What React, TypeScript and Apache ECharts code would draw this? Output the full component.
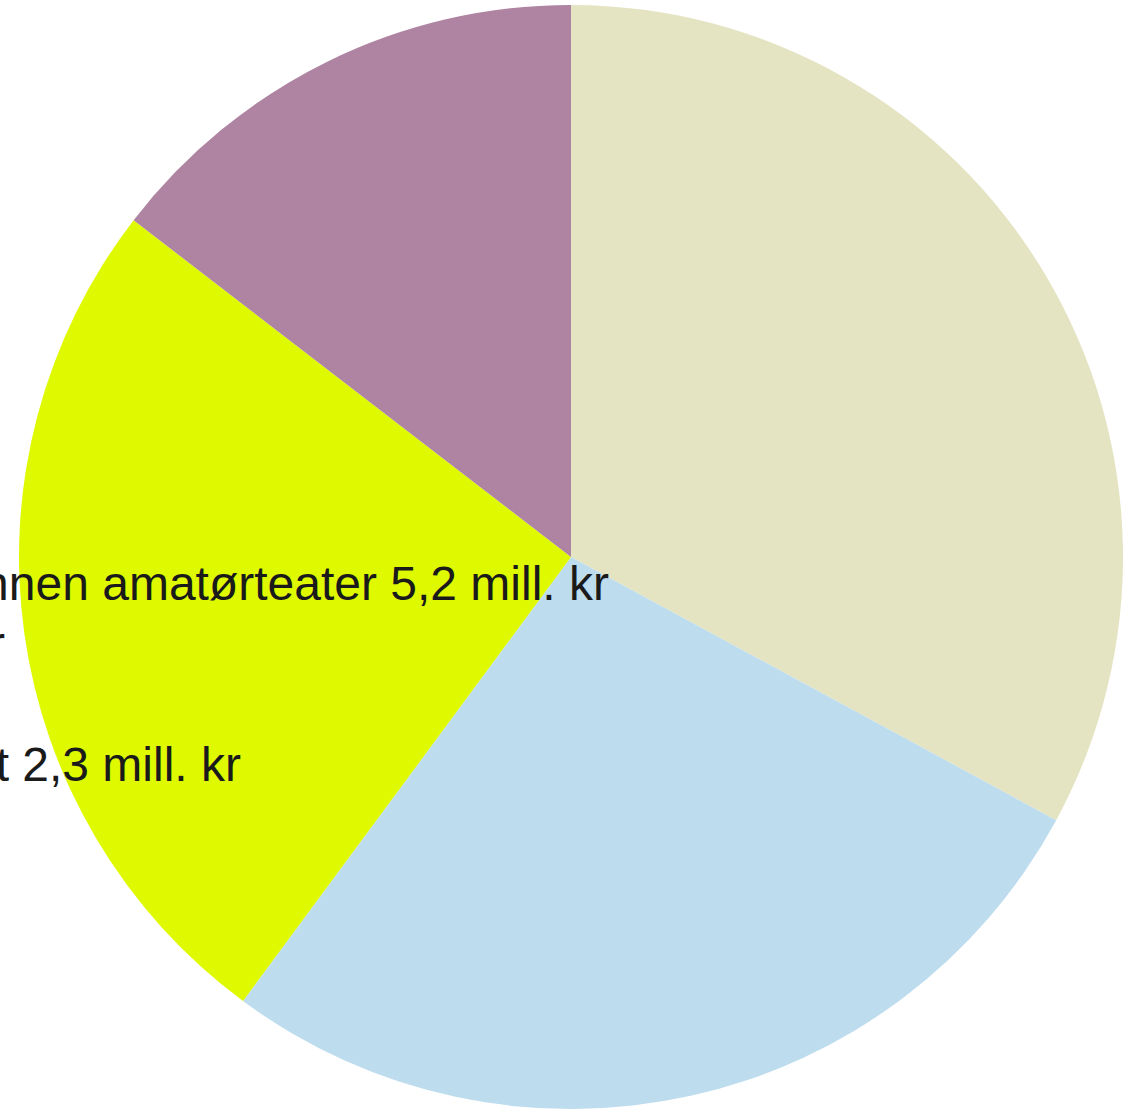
import React, { useEffect, useRef } from "react";
import * as echarts from "echarts";

const categories = [
  "Tilskudd innen amatørteater",
  "Øvrige tilskudd",
  "Tilskudd til kurs",
  "Tilskudd til prosjekt",
];
const values = [5.2, 4.3, 4.0, 2.3];
const colors = ["#e4e4c3", "#bddcee", "#dffa00", "#ae84a2"];
const labelTexts = [
  "Tilskudd innen amatørteater 5,2 mill. kr",
  "Øvrige tilskudd 4,3 mill. kr",
  "Tilskudd til prosjekt 2,3 mill. kr",
];
const labelAnchors = [
  [609, 583],
  [5, 643],
  [241, 764],
];

export default function App() {
  const ref = useRef<HTMLDivElement>(null);
  useEffect(() => {
    if (!ref.current) return;
    const chart = echarts.init(ref.current, null, { renderer: "svg" });
    chart.setOption({
      animation: false,
      backgroundColor: "#ffffff",
      series: [
        {
          type: "pie",
          center: [571, 557],
          radius: 552,
          startAngle: 90,
          clockwise: true,
          label: { show: false },
          labelLine: { show: false },
          data: categories.map((c, i) => ({
            name: c,
            value: values[i],
            itemStyle: { color: colors[i] },
          })),
        },
      ],
      graphic: labelTexts.map((t, i) => ({
        type: "text",
        x: labelAnchors[i][0],
        y: labelAnchors[i][1],
        z: 100,
        style: {
          text: t,
          fill: "#1a1a1a",
          font: '48px "Liberation Sans", Arial, sans-serif',
          textAlign: "right",
          textVerticalAlign: "middle",
        },
      })),
    });
    return () => chart.dispose();
  }, []);
  return (
    <div
      ref={ref}
      style={{ position: "fixed", left: 0, top: 0, width: 1140, height: 1112 }}
    />
  );
}
